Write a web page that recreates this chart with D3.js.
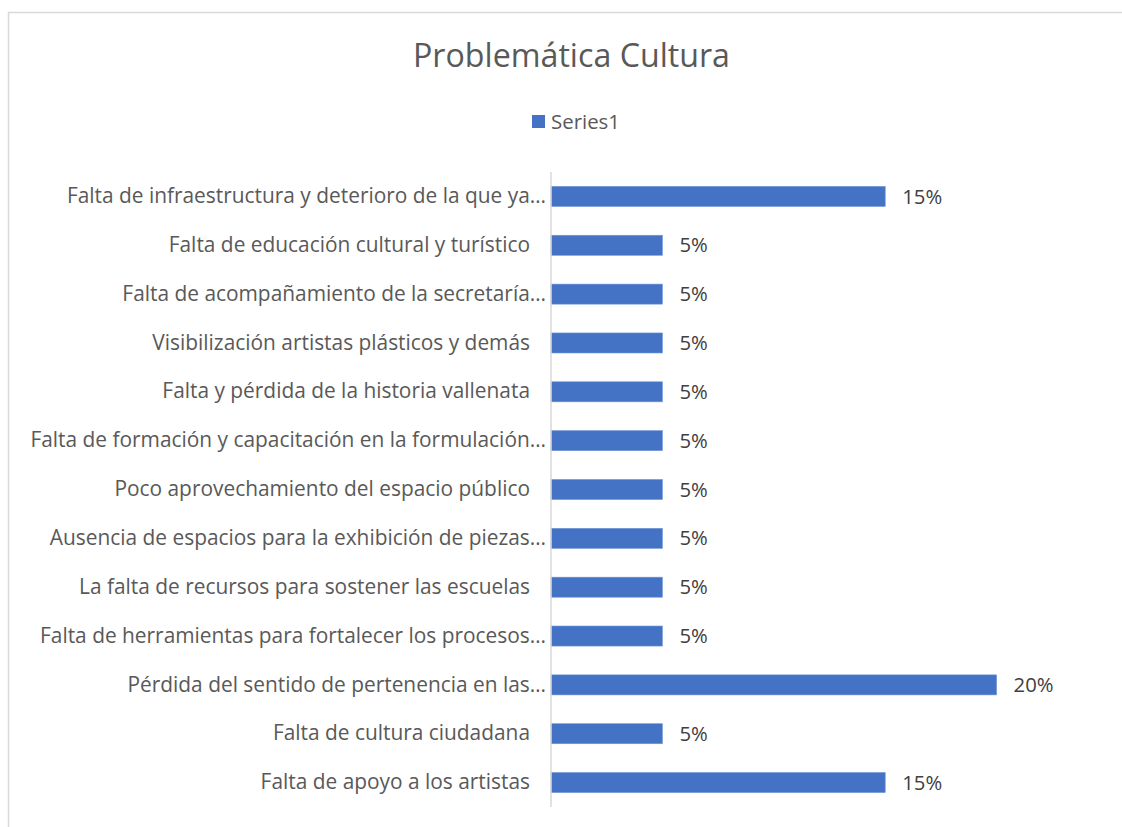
<!DOCTYPE html>
<html>
<head>
<meta charset="utf-8">
<script src="https://cdn.jsdelivr.net/npm/d3@7"></script>
<style>
  body { margin: 0; background: #fff; }
  svg { display: block; font-family: "Open Sans", "Noto Sans", sans-serif; }
</style>
</head>
<body>
<script>
var title = "Problemática Cultura";
var seriesName = "Series1";

var categories = [
  "Falta de infraestructura y deterioro de la que ya…",
  "Falta de educación cultural y turístico",
  "Falta de acompañamiento de la secretaría…",
  "Visibilización artistas plásticos y demás",
  "Falta y pérdida de la historia vallenata",
  "Falta de formación y capacitación en la formulación…",
  "Poco aprovechamiento del espacio público",
  "Ausencia de espacios para la exhibición de piezas…",
  "La falta de recursos para sostener las escuelas",
  "Falta de herramientas para fortalecer los procesos…",
  "Pérdida del sentido de pertenencia en las…",
  "Falta de cultura ciudadana",
  "Falta de apoyo a los artistas"
];
var values = [0.15, 0.05, 0.05, 0.05, 0.05, 0.05, 0.05, 0.05, 0.05, 0.05, 0.20, 0.05, 0.15];

var W = 1122, H = 827;
var plot = {left: 551, right: 1108, top: 172, bottom: 807};

var svg = d3.select("body").append("svg")
    .attr("width", W)
    .attr("height", H);

// chart frame (runs off the right and bottom of the picture)
svg.append("rect")
    .attr("x", 8.5).attr("y", 12.5)
    .attr("width", W + 20).attr("height", H + 20)
    .attr("fill", "#fff")
    .attr("stroke", "#d9d9d9")
    .attr("stroke-width", 1.5);

var x = d3.scaleLinear().domain([0, 0.25]).range([plot.left, plot.right]);
var y = d3.scaleBand().domain(categories).range([plot.top, plot.bottom])
    .paddingInner(0.59).paddingOuter(0.295);

// shrink/grow a text node to a measured width
function fit(sel, target) {
  var n = sel.node();
  var fs = parseFloat(sel.attr("font-size"));
  var w = n.getComputedTextLength();
  sel.attr("font-size", (fs * target / w).toFixed(2));
}

var t = svg.append("text")
    .attr("x", 571.5).attr("y", 67)
    .attr("text-anchor", "middle")
    .attr("font-size", 30)
    .attr("fill", "#595959")
    .text(title);
fit(t, 317);

// legend
var lg = svg.append("g");
lg.append("rect")
    .attr("x", 532).attr("y", 115)
    .attr("width", 13).attr("height", 13)
    .attr("fill", "#4472c4");
var lt = lg.append("text")
    .attr("x", 551).attr("y", 121.5)
    .attr("dy", "0.35em")
    .attr("font-size", 18)
    .attr("fill", "#595959")
    .text(seriesName);
fit(lt, 69);

// bars
svg.append("g").selectAll("rect")
  .data(values)
  .join("rect")
    .attr("x", x(0))
    .attr("y", function(d, i) { return y(categories[i]); })
    .attr("width", function(d) { return x(d) - x(0); })
    .attr("height", y.bandwidth())
    .attr("fill", "#4472c4")
    .attr("stroke", "#6f94d6")
    .attr("stroke-width", 0.6);

// category axis
var yAxis = d3.axisLeft(y).tickSize(0).tickPadding(5);
var ga = svg.append("g")
    .attr("transform", "translate(" + plot.left + ",0)")
    .call(yAxis)
    .attr("font-family", null)
    .attr("font-size", null);
ga.select(".domain").remove();
ga.append("line")
    .attr("x1", 0).attr("x2", 0)
    .attr("y1", plot.top).attr("y2", plot.bottom)
    .attr("stroke", "#d9d9d9")
    .attr("stroke-width", 1.5);
var labels = ga.selectAll(".tick text")
    .attr("fill", "#595959")
    .attr("font-size", 18)
    .attr("dx", function(d) { return d.endsWith("…") ? 0 : -16; });

// size category labels from the widest one
var widest = labels.filter(function(d) { return d.indexOf("formulación") >= 0; });
fit(widest, 516);
labels.attr("font-size", widest.attr("font-size"));

// value labels
var fmt = d3.format(".0%");
var vl = svg.append("g").selectAll("text")
  .data(values)
  .join("text")
    .attr("x", function(d) { return x(d) + 17; })
    .attr("y", function(d, i) { return y(categories[i]) + y.bandwidth() / 2; })
    .attr("dy", "0.35em")
    .attr("font-size", 18)
    .attr("fill", "#404040")
    .text(function(d) { return fmt(d); });
fit(d3.select(vl.nodes()[0]), 40);
vl.attr("font-size", d3.select(vl.nodes()[0]).attr("font-size"));
</script>
</body>
</html>
